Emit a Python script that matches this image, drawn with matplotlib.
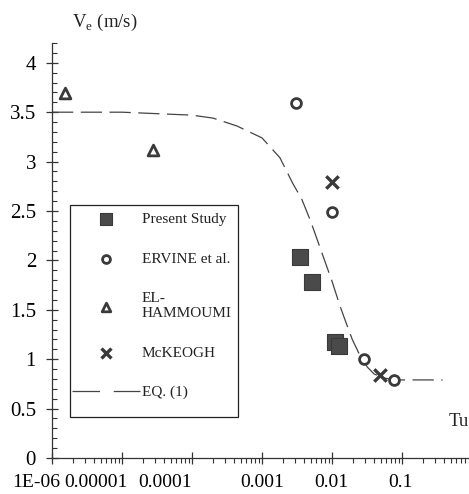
import matplotlib
matplotlib.use("Agg")
import matplotlib.pyplot as plt
import matplotlib.transforms as mtransforms
from matplotlib.patches import Rectangle
from matplotlib.ticker import FixedLocator, MultipleLocator, LogLocator, NullFormatter

plt.rcParams["font.family"] = ["Liberation Serif", "DejaVu Serif"]
plt.rcParams["mathtext.fontset"] = "custom"
plt.rcParams["mathtext.rm"] = "Liberation Serif"

# values
present_tu = [0.0035, 0.0052, 0.011, 0.0128]
present_ve = [2.03, 1.78, 1.17, 1.13]

ervine_tu = [0.0031, 0.0100, 0.0286, 0.077]
ervine_ve = [3.59, 2.49, 1.00, 0.79]

hammoumi_tu = [1.55e-6, 2.8e-5]
hammoumi_ve = [3.69, 3.12]

mckeogh_tu = [0.0101, 0.0485]
mckeogh_ve = [2.79, 0.84]

eq_tu = [1e-6, 1e-5, 1e-4, 2e-4, 4.4e-4, 1e-3, 1.8e-3, 2.75e-3, 3.7e-3,
         5e-3, 7.4e-3, 1e-2, 1.3e-2, 1.55e-2, 1.95e-2, 2.5e-2, 3.2e-2,
         4e-2, 5.5e-2, 8e-2, 0.38]
eq_ve = [3.5, 3.5, 3.47, 3.44, 3.36, 3.24, 3.04, 2.78, 2.62, 2.39, 2.05,
         1.79, 1.54, 1.39, 1.20, 1.04, 0.92, 0.85, 0.81, 0.79, 0.79]

xticks = [1e-6, 1e-5, 1e-4, 1e-3, 1e-2, 1e-1]
xlabels = ["1E-06", "0.00001", "0.0001", "0.001", "0.01", "0.1"]
# the scan has the first labels pushed left of their ticks (pixels)
xlabel_shift = [-16, -26, -27, 0, -1, -2]
yticks = [0, 0.5, 1, 1.5, 2, 2.5, 3, 3.5, 4]
ylabels = ["0", "0.5", "1", "1.5", "2", "2.5", "3", "3.5", "4"]

ink = "#3a3a3a"

fig = plt.figure(figsize=(4.69, 4.94), dpi=100)
ax = fig.add_axes([0.1109, 0.0729, 0.889, 0.840])

ax.plot(eq_tu, eq_ve, color="#444444", lw=0.9, dashes=[17, 6],
        label="EQ. (1)", zorder=2)
ax.scatter(present_tu, present_ve, marker="s", s=120, color="#4a4a4a",
           edgecolors="#3a3a3a", linewidths=0.8, label="Present Study", zorder=3)
ax.scatter(ervine_tu, ervine_ve, marker="o", s=50, facecolors="white",
           edgecolors=ink, linewidths=2.0, label="ERVINE et al.", zorder=3)
ax.scatter(hammoumi_tu, hammoumi_ve, marker="^", s=60, facecolors="white",
           edgecolors=ink, linewidths=2.0, label="EL-\nHAMMOUMI", zorder=3)
ax.scatter(mckeogh_tu, mckeogh_ve, marker="x", s=80, color=ink,
           linewidths=2.4, label="McKEOGH", zorder=3)

ax.set_xscale("log")
ax.set_xlim(1e-6, 0.906)
ax.set_ylim(0, 4.2)

ax.xaxis.set_major_locator(FixedLocator(xticks))
ax.set_xticklabels(xlabels, fontsize=14)
ax.xaxis.set_minor_locator(LogLocator(base=10, subs=range(2, 10), numticks=20))
ax.xaxis.set_minor_formatter(NullFormatter())
ax.yaxis.set_major_locator(FixedLocator(yticks))
ax.set_yticklabels(ylabels, fontsize=15)
ax.yaxis.set_minor_locator(MultipleLocator(0.1))

ax.tick_params(axis="both", which="major", direction="inout", length=9,
               width=0.9, color="#333333")
ax.tick_params(axis="y", which="major", pad=7)
ax.tick_params(axis="x", which="major", pad=7)
ax.tick_params(axis="x", which="minor", direction="out", length=3.5,
               width=0.8, color="#333333")
ax.tick_params(axis="y", which="minor", direction="in", length=3.5,
               width=0.8, color="#333333")

for lab, dx in zip(ax.get_xticklabels(), xlabel_shift):
    lab.set_transform(lab.get_transform() +
                      mtransforms.ScaledTranslation(dx / 100, 0, fig.dpi_scale_trans))

for side in ("top", "right"):
    ax.spines[side].set_visible(False)
for side in ("left", "bottom"):
    ax.spines[side].set_linewidth(0.9)
    ax.spines[side].set_color("#333333")

fig.text(72 / 469, 1 - 22 / 494, r"V$_\mathregular{e}$ (m/s)", fontsize=13.5,
         ha="left", va="center", color="#222222")
fig.text(1.0, 1 - 422 / 494, "Tu", fontsize=13.5, ha="right", va="center",
         color="#222222")

handles, labels = ax.get_legend_handles_labels()
order = [1, 2, 3, 4, 0]
leg = ax.legend([handles[i] for i in order], [labels[i] for i in order],
                loc="upper left", bbox_to_anchor=(70 / 469, 1 - 211 / 494),
                bbox_transform=fig.transFigure, fontsize=11, frameon=False,
                labelspacing=1.7, handlelength=4.45, handletextpad=0.15,
                borderpad=0.1, borderaxespad=0, scatterpoints=1,
                markerscale=0.8)
for t in leg.get_texts():
    t.set_color("#222222")
for ln in leg.get_lines():
    ln.set_dashes([22, 11])

# legend box as drawn in the scan
fig.patches.append(Rectangle((70 / 469, 1 - 417 / 494), 168 / 469, 212 / 494,
                             transform=fig.transFigure, fill=False,
                             edgecolor="#222222", lw=0.9, zorder=5))

fig.savefig("out.png", dpi=100)
